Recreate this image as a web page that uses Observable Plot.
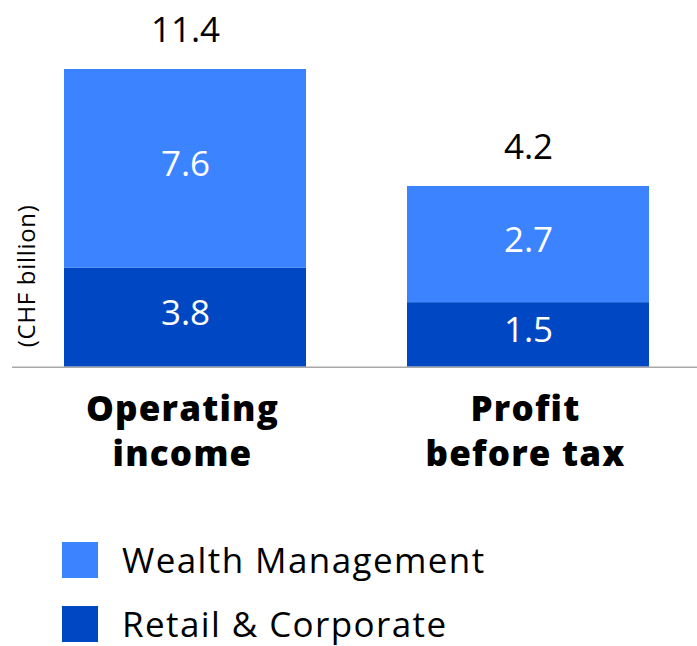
<!DOCTYPE html>
<html><head><meta charset="utf-8">
<script src="https://cdn.jsdelivr.net/npm/d3@7"></script>
<script src="https://cdn.jsdelivr.net/npm/@observablehq/plot@0.6"></script>
<style>
html,body{margin:0;padding:0;background:#fff;}
body{font-family:"Open Sans",sans-serif;width:697px;height:646px;overflow:hidden;}
#legend .row{display:flex;align-items:center;height:64px;padding-left:62px;}
#legend .sw{width:36px;height:36px;margin-right:24px;flex:none;}
#legend .lb{font-size:35px;line-height:64px;color:#000;letter-spacing:1.4px;white-space:nowrap;}
svg g[font-weight="800"]{letter-spacing:1.2px;}
svg g[font-size="24"]{letter-spacing:0.7px;}
</style></head><body>
<div id="chart"></div>
<div id="legend"></div>
<script>
// Data
const categories = ["Operating income", "Profit before tax"];
const categoryLabels = ["Operating\nincome", "Profit\nbefore tax"];
const segments = ["Retail & Corporate", "Wealth Management"];
const retailCorporate = [3.8, 1.5];
const wealthManagement = [7.6, 2.7];
const totals = [11.4, 4.2];
const colors = ["#0048c3", "#3b83ff"];
const legendOrder = ["Wealth Management", "Retail & Corporate"];

// The original draws each bar with its own height (not to a common linear scale);
// bar heights follow sqrt(total), segments are proportional within each bar.
const rows = [];
const totalRows = [];
categories.forEach((c, i) => {
  const total = totals[i];
  const k = Math.sqrt(total) / total;
  const vals = [retailCorporate[i], wealthManagement[i]];
  let cum = 0;
  vals.forEach((v, j) => {
    rows.push({category: c, segment: segments[j], value: v, y1: cum * k, y2: (cum + v) * k, ymid: (cum + v / 2) * k});
    cum += v;
  });
  totalRows.push({category: c, label: categoryLabels[i], total, top: total * k});
});

const chart = Plot.plot({
  width: 697,
  height: 528,
  marginLeft: 64,
  marginRight: 48,
  marginTop: 69,
  marginBottom: 161.3,
  x: {domain: categories, paddingInner: 0.295, paddingOuter: 0, axis: null},
  y: {domain: [0, d3.max(totalRows, d => d.top)], axis: null},
  color: {domain: segments, range: colors},
  style: {fontFamily: "'Open Sans', sans-serif", background: "white", color: "black", overflow: "visible"},
  marks: [
    Plot.barY(rows, {x: "category", y1: "y1", y2: "y2", fill: "segment"}),
    Plot.ruleY([0], {stroke: "#a8a8a8", strokeWidth: 1.5, insetLeft: -52, insetRight: -48}),
    Plot.text(rows, {x: "category", y: "ymid", text: d => d.value.toFixed(1), fill: "white", fontSize: 35, lineAnchor: "middle", dy: -4}),
    Plot.text(totalRows, {x: "category", y: "top", text: d => d.total.toFixed(1), fill: "black", fontSize: 35, lineAnchor: "bottom", dy: -28}),
    Plot.text(totalRows, {x: "category", y: () => 0, text: "label", fill: "black", fontSize: 35, fontWeight: 800, lineAnchor: "top", lineHeight: 1.28, dy: 22, dx: -3}),
    Plot.text(["(CHF billion)"], {text: d => d, frameAnchor: "bottom-left", rotate: -90, textAnchor: "start", lineAnchor: "middle", dx: -37, dy: -20, fontSize: 24, fill: "black"})
  ]
});
document.getElementById("chart").appendChild(chart);

const legend = d3.select("#legend");
legendOrder.forEach(name => {
  const row = legend.append("div").attr("class", "row");
  row.append("div").attr("class", "sw").style("background", colors[segments.indexOf(name)]);
  row.append("div").attr("class", "lb").text(name);
});
</script>
</body></html>
